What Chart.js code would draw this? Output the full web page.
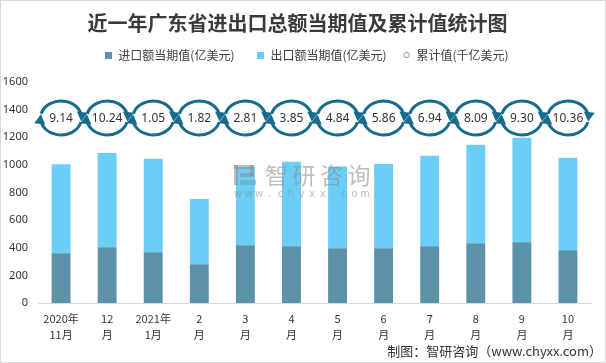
<!DOCTYPE html>
<html><head><meta charset="utf-8">
<script src="https://cdn.jsdelivr.net/npm/chart.js@4"></script>
<style>html,body{margin:0;padding:0;background:#fff;}#wrap{width:606px;height:363px;position:relative;}</style>
</head><body><div id="wrap"><canvas id="c" width="606" height="363"></canvas></div>
<script>
const categories = [['2020年','11月'],['12','月'],['2021年','1月'],['2','月'],['3','月'],['4','月'],['5','月'],['6','月'],['7','月'],['8','月'],['9','月'],['10','月']];
const importValues = [361, 405, 368, 281, 419, 412, 397, 397, 412, 433, 441, 383];
const exportValues = [644, 682, 676, 472, 566, 610, 591, 610, 654, 713, 756, 668];
const cumulativeValues = [9.14, 10.24, 1.05, 1.82, 2.81, 3.85, 4.84, 5.86, 6.94, 8.09, 9.30, 10.36];
const yTicks = [0, 200, 400, 600, 800, 1000, 1200, 1400, 1600];

const RING_LEVEL = 1340;
const CJK = '"Noto Sans CJK SC","Noto Sans",sans-serif';
const IMPORT_COLOR = '#5d91a7';
const EXPORT_COLOR = '#6bcef6';

function squareMarker(color) {
  const c = document.createElement('canvas');
  c.width = 7; c.height = 7;
  const g = c.getContext('2d');
  g.fillStyle = color; g.fillRect(0, 0, 7, 7);
  return c;
}
function circleMarker() {
  const c = document.createElement('canvas');
  c.width = 8; c.height = 8;
  const g = c.getContext('2d');
  g.strokeStyle = '#7f9cad'; g.lineWidth = 1;
  g.beginPath(); g.arc(4, 4, 2.7, 0, Math.PI * 2); g.stroke();
  return c;
}
const markers = [squareMarker(IMPORT_COLOR), squareMarker(EXPORT_COLOR), circleMarker()];
const legendGaps = ['\u3000', '\u2002', ''];

const ringPlugin = {
  id: 'rings',
  afterDatasetsDraw(chart) {
    const ctx = chart.ctx;
    const meta = chart.getDatasetMeta(2);
    const y = chart.scales.y.getPixelForValue(RING_LEVEL);
    const rx = 20.5, ry = 17;
    ctx.save();
    meta.data.forEach((pt, i) => {
      const x = pt.x;
      ctx.strokeStyle = '#176b8c';
      ctx.fillStyle = '#176b8c';
      ctx.lineWidth = 3;
      const arcs = [[Math.PI * 1.08, Math.PI * 2.03], [Math.PI * 0.08, Math.PI * 1.03]];
      arcs.forEach(([a0, a1]) => {
        ctx.beginPath();
        ctx.ellipse(x, y, rx, ry, 0, a0, a1 - 0.12);
        ctx.stroke();
        const ex = x + rx * Math.cos(a1), ey = y + ry * Math.sin(a1);
        const tx = -rx * Math.sin(a1), ty = ry * Math.cos(a1);
        const tl = Math.hypot(tx, ty);
        const ux = tx / tl, uy = ty / tl;
        const nx = -uy, ny = ux;
        const L = 7.5, W = 5.5;
        ctx.beginPath();
        ctx.moveTo(ex + ux * 2, ey + uy * 2);
        ctx.lineTo(ex - ux * L + nx * W, ey - uy * L + ny * W);
        ctx.lineTo(ex - ux * L - nx * W, ey - uy * L - ny * W);
        ctx.closePath();
        ctx.fill();
      });
      ctx.fillStyle = '#333';
      ctx.font = '12px "Noto Sans",sans-serif';
      ctx.textAlign = 'center';
      ctx.textBaseline = 'middle';
      ctx.fillText(cumulativeValues[i].toFixed(2), x, y + 1);
    });
    ctx.restore();
  }
};

const decoPlugin = {
  id: 'deco',
  afterLayout(chart) {
    if (chart.legend) { chart.legend.left += 9; chart.legend.right += 9; }
  },
  beforeDraw(chart) {
    const ctx = chart.ctx;
    ctx.save();
    ctx.fillStyle = '#fff';
    ctx.fillRect(0, 0, chart.width, chart.height);
    ctx.restore();
  },
  afterDraw(chart) {
    const ctx = chart.ctx;
    ctx.save();
    // watermark
    ctx.globalAlpha = 0.55;
    ctx.fillStyle = '#8a8a8a';
    ctx.fillRect(234, 165, 20, 4);
    ctx.fillRect(234, 165, 4, 20);
    ctx.fillRect(250, 165, 4, 11);
    ctx.fillRect(240, 173, 14, 4);
    ctx.fillStyle = '#6a9ec0';
    ctx.fillRect(240, 180, 16, 5);
    ctx.fillStyle = '#8a8a8a';
    ctx.font = '23px ' + CJK;
    ctx.textBaseline = 'middle';
    ctx.textAlign = 'left';
    const wm = '智研咨询';
    for (let k = 0; k < wm.length; k++) ctx.fillText(wm[k], 265 + k * 27.5, 175);
    ctx.font = '10px "DejaVu Sans",sans-serif';
    const url = 'www.chyxx.com';
    ctx.textAlign = 'center';
    for (let k = 0; k < url.length; k++) ctx.fillText(url[k], 238 + k * 10.6, 194);
    ctx.globalAlpha = 1;
    // footer
    ctx.fillStyle = '#333';
    ctx.font = '13px ' + CJK;
    ctx.textAlign = 'right';
    ctx.textBaseline = 'middle';
    ctx.fillText('制图：智研咨询（www.chyxx.com）', 602, 351);
    // border
    ctx.strokeStyle = '#d9d9d9';
    ctx.lineWidth = 1;
    ctx.strokeRect(0.5, 0.5, chart.width - 1, chart.height - 1);
    ctx.restore();
  }
};

new Chart(document.getElementById('c'), {
  data: {
    labels: categories,
    datasets: [
      { type: 'bar', label: '进口额当期值(亿美元)', data: importValues, backgroundColor: IMPORT_COLOR, stack: 's', yAxisID: 'y', barPercentage: 0.41, categoryPercentage: 1, order: 2 },
      { type: 'bar', label: '出口额当期值(亿美元)', data: exportValues, backgroundColor: EXPORT_COLOR, stack: 's', yAxisID: 'y', barPercentage: 0.41, categoryPercentage: 1, order: 2 },
      { type: 'line', label: '累计值(千亿美元)', data: cumulativeValues, yAxisID: 'y2', showLine: false, pointRadius: 0, pointHoverRadius: 0, borderColor: '#7f9cad', backgroundColor: '#fff', borderWidth: 1, order: 1 }
    ]
  },
  options: {
    responsive: false,
    animation: false,
    devicePixelRatio: 1,
    layout: { padding: { left: 4, right: 15, top: 0, bottom: 12 } },
    plugins: {
      tooltip: { enabled: false },
      title: { display: true, text: '近一年广东省进出口总额当期值及累计值统计图', color: '#3a3a3a', font: { family: CJK, size: 20, weight: 'bold' }, padding: { top: 11, bottom: 4 } },
      subtitle: { display: true, text: ' ', weight: 500, font: { size: 1, lineHeight: 1 }, padding: { top: 5, bottom: 5 } },
      legend: {
        display: true, position: 'top', weight: 1000,
        labels: {
          color: '#404040', font: { family: CJK, size: 12 }, usePointStyle: true, boxWidth: 8, boxHeight: 8, padding: 10,
          generateLabels(chart) {
            return chart.data.datasets.map((ds, i) => ({
              text: ds.label + legendGaps[i],
              fillStyle: ds.backgroundColor,
              strokeStyle: ds.backgroundColor,
              lineWidth: 0,
              pointStyle: markers[i],
              datasetIndex: i,
              hidden: false,
              fontColor: '#404040'
            }));
          }
        }
      }
    },
    scales: {
      x: {
        stacked: true,
        grid: { display: false, drawTicks: false },
        border: { display: true, color: '#d9d9d9', width: 1 },
        ticks: { color: '#333', font: { family: CJK, size: 11, lineHeight: 1.45 }, maxRotation: 0, autoSkip: false, padding: 8 }
      },
      y: {
        stacked: true, min: 0, max: 1600,
        afterBuildTicks(axis) { axis.ticks = yTicks.map(v => ({ value: v })); },
        afterFit(axis) { axis.width = 34; },
        grid: { display: false, drawTicks: false },
        border: { display: false },
        ticks: { color: '#333', font: { family: '"Noto Sans",sans-serif', size: 11 }, padding: 10, autoSkip: false, callback: v => String(v) }
      },
      y2: { display: false, min: 0, max: 12 }
    }
  },
  plugins: [ringPlugin, decoPlugin]
});
</script></body></html>
